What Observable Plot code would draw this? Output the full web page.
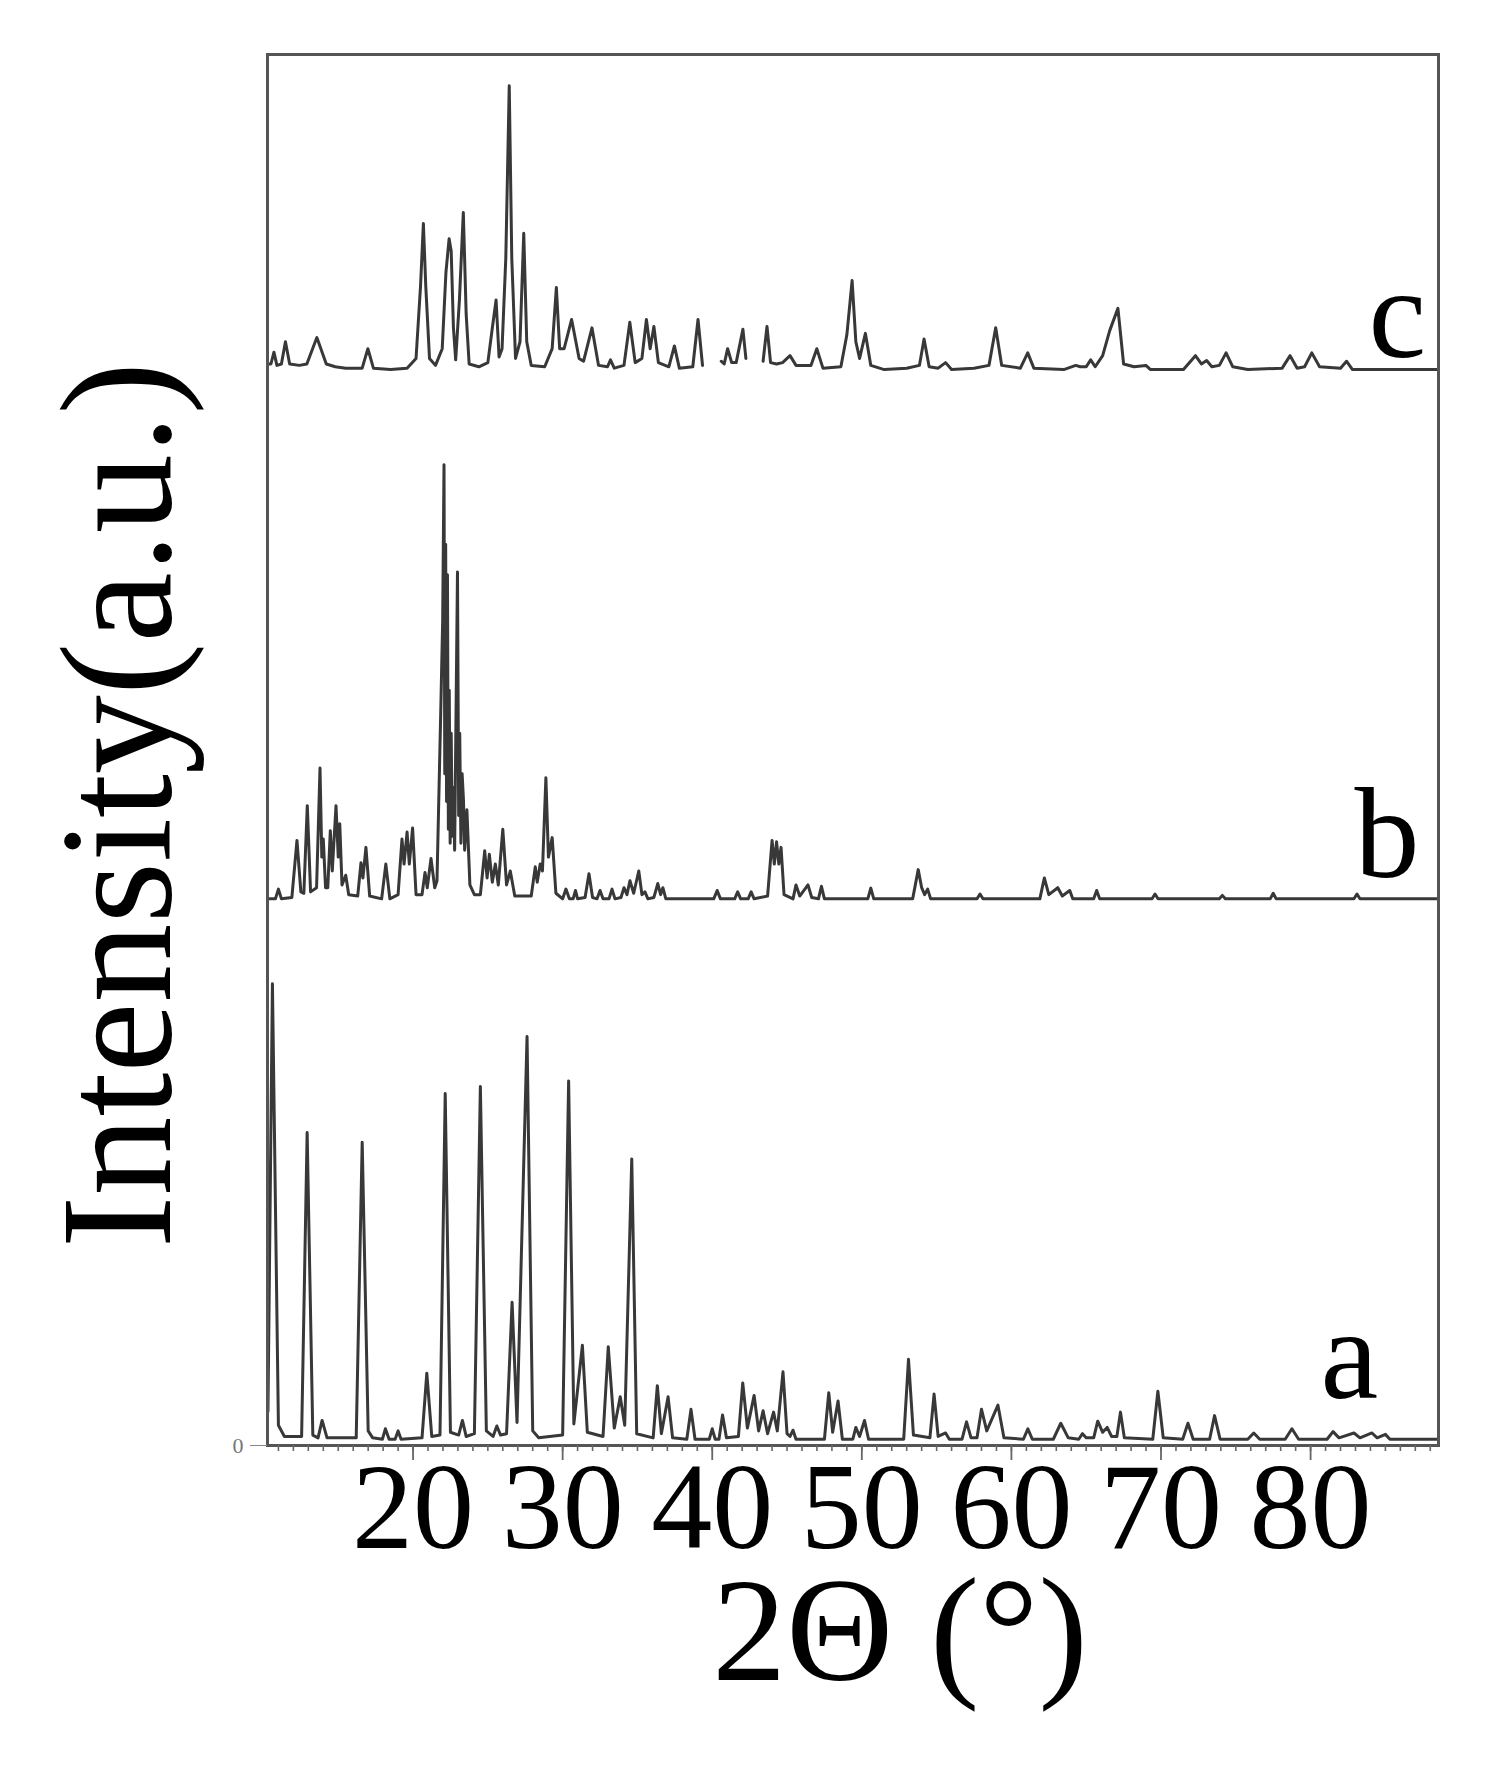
<!DOCTYPE html>
<html>
<head>
<meta charset="utf-8">
<script src="https://cdn.jsdelivr.net/npm/d3@7"></script>
<script src="https://cdn.jsdelivr.net/npm/@observablehq/plot@0.6"></script>
<style>
  body { margin: 0; background: #fff; }
  #chart svg { display: block; }
</style>
</head>
<body>
<div id="chart"></div>
<script>
// ---- data (2θ in degrees, intensity in a.u. above each pattern's own baseline) ----
const seriesNames = ["a", "b", "c"];
const baselineOffsets = [0.45, 39.3, 77.35];

const patternA = [
  [10.3,2.0],[10.6,32.75],[11.0,1.0],[11.4,0.2],
  [12.55,0.2],[12.92,22.05],[13.3,0.3],
  [13.65,0.1],[13.92,1.35],[14.25,0.1],
  [16.2,0.1],[16.6,21.35],[17.0,0.6],[17.3,0.1],
  [17.95,0],[18.15,0.75],[18.4,0],
  [18.8,0],[19.0,0.6],[19.2,0],
  [20.6,0.1],[20.92,4.75],[21.25,0.2],
  [21.8,0.3],[22.15,24.85],[22.5,0.5],
  [23.05,0.3],[23.3,1.35],[23.55,0.2],
  [24.1,0.4],[24.5,25.35],[24.9,0.6],
  [25.35,0.2],[25.6,0.95],[25.85,0.3],
  [26.25,0.4],[26.62,9.85],[26.95,1.2],
  [27.62,28.95],[28.0,0.6],[28.4,0.1],
  [30.0,0.3],[30.4,25.75],[30.75,1.1],
  [31.32,6.75],[31.65,0.5],
  [32.7,0.2],[33.05,6.65],[33.45,0.8],
  [33.85,3.05],[34.15,1.0],
  [34.62,20.15],[34.95,0.4],
  [36.05,0.1],[36.33,3.85],[36.6,0.4],
  [37.05,3.05],[37.35,0.1],
  [38.3,0],[38.58,2.15],[38.85,0],
  [39.8,0],[40.0,0.75],[40.2,0],
  [40.45,0],[40.69,1.75],[40.95,0.1],
  [41.75,0.2],[42.04,4.05],[42.35,0.8],
  [42.8,3.15],[43.1,0.6],
  [43.4,2.05],[43.7,0.4],
  [44.1,1.95],[44.35,0.6],
  [44.73,4.85],[45.0,0.4],
  [45.2,0.2],[45.4,0.65],[45.6,0],
  [47.5,0],[47.79,3.35],[48.05,0.5],
  [48.41,2.75],[48.7,0],
  [49.4,0],[49.6,0.85],[49.85,0.2],
  [50.18,1.35],[50.45,0],
  [52.8,0],[53.12,5.75],[53.45,0.3],
  [54.55,0.1],[54.83,3.25],[55.1,0.2],
  [55.6,0.45],[55.85,0],
  [56.7,0],[57.0,1.25],[57.3,0.1],
  [57.7,0.1],[58.0,2.15],[58.35,0.6],
  [59.1,2.45],[59.5,0.1],
  [60.8,0],[61.1,0.75],[61.4,0],
  [62.8,0],[63.3,1.15],[63.8,0.1],
  [64.5,0],[64.75,0.4],[65.0,0.1],
  [65.5,0.1],[65.77,1.3],[66.1,0.5],
  [66.4,0.85],[66.7,0.2],
  [67.05,0.2],[67.29,1.95],[67.55,0.1],
  [69.45,0],[69.79,3.45],[70.15,0.1],
  [71.45,0],[71.8,1.15],[72.15,0],
  [73.25,0],[73.58,1.7],[73.95,0],
  [75.8,0],[76.2,0.45],[76.6,0],
  [78.3,0],[78.75,0.75],[79.2,0],
  [81.1,0],[81.5,0.55],[81.9,0.1],
  [82.9,0.45],[83.3,0.1],
  [84.1,0.45],[84.45,0.1],
  [85.0,0.35],[85.3,0],
  [88.5,0]
];

const patternB = [
  [10.3,0],[10.8,0],[11.0,0.7],[11.2,0],
  [11.9,0.1],[12.24,4.2],[12.5,0.5],
  [12.7,0.4],[12.93,6.7],[13.15,0.5],
  [13.55,0.8],[13.78,9.4],[13.9,3.0],[14.0,4.3],[14.15,0.8],
  [14.3,0.8],[14.47,4.9],[14.6,2.0],[14.85,6.7],[15.0,3.0],[15.1,5.4],[15.25,1.0],[15.5,1.7],[15.7,0.3],
  [16.3,0.2],[16.52,2.6],[16.65,1.5],[16.85,3.7],[17.1,0.2],
  [17.9,0],[18.18,2.5],[18.45,0],
  [19.0,0.3],[19.26,4.3],[19.4,2.5],[19.6,4.8],[19.75,2.5],[19.97,5.1],[20.2,0.3],
  [20.6,0.3],[20.8,1.9],[20.95,0.8],[21.2,2.9],[21.45,0.8],[21.6,1.3],
  [21.84,12.9],[21.98,20.0],[22.07,31.2],[22.12,9.0],[22.18,25.5],[22.24,7.0],[22.3,23.3],[22.36,5.0],
  [22.42,15.0],[22.48,4.0],[22.55,11.9],[22.62,4.5],[22.7,8.0],[22.78,3.5],[22.97,23.5],[23.05,6.0],
  [23.12,11.9],[23.2,4.0],[23.28,9.0],[23.37,7.1],[23.45,3.5],[23.6,6.4],[23.8,1.0],[24.1,0.3],
  [24.5,0.3],[24.79,3.45],[24.95,1.5],[25.1,3.2],[25.3,1.2],[25.5,2.5],[25.7,1.0],[26.0,5.0],[26.25,1.0],[26.5,2.0],[26.8,0.2],
  [27.9,0.2],[28.17,2.3],[28.3,1.2],[28.5,2.5],[28.65,2.0],[28.88,8.7],[29.05,3.0],[29.3,4.4],[29.55,0.4],
  [30.0,0],[30.22,0.7],[30.45,0],[30.7,0],[30.86,0.6],[31.0,0],[31.5,0.1],[31.76,1.8],[32.0,0.1],
  [32.3,0],[32.5,0.6],[32.7,0],[33.1,0],[33.3,0.7],[33.5,0],[33.9,0.1],[34.1,0.8],[34.3,0.3],
  [34.5,1.3],[34.75,0.4],[35.09,2.0],[35.3,0.3],[35.5,0.5],[35.7,0],[36.1,0.1],[36.36,1.1],
  [36.55,0.3],[36.7,0.8],[36.9,0],
  [40.1,0],[40.33,0.6],[40.55,0],
  [41.5,0],[41.7,0.5],[41.9,0],
  [42.4,0],[42.6,0.5],[42.8,0],
  [43.7,0.2],[44.0,4.2],[44.15,2.5],[44.3,4.1],[44.45,2.5],[44.6,3.7],[44.8,0.3],
  [45.4,0],[45.6,1.0],[45.85,0.2],[46.4,1.0],[46.65,0.1],[47.1,0],[47.3,0.9],[47.5,0],
  [50.4,0],[50.6,0.77],[50.8,0],
  [53.4,0],[53.77,2.1],[54.0,0.8],[54.2,0.3],[54.4,0.7],[54.6,0],
  [57.7,0],[57.9,0.35],[58.1,0],
  [61.9,0],[62.2,1.5],[62.5,0.3],[63.1,0.8],[63.4,0.2],[63.9,0.6],[64.1,0],
  [65.5,0],[65.7,0.6],[65.9,0],
  [69.4,0],[69.6,0.35],[69.8,0],
  [73.9,0],[74.1,0.25],[74.3,0],
  [77.3,0],[77.5,0.4],[77.7,0],
  [82.9,0],[83.1,0.35],[83.3,0],
  [88.5,0]
];

const patternC = [
  [10.3,0.4],[10.5,0.4],[10.7,1.25],[10.9,0.3],[11.2,0.4],[11.47,2.0],[11.75,0.4],
  [12.4,0.3],[12.9,0.4],[13.57,2.3],[14.2,0.4],[14.8,0.2],[15.5,0.1],
  [16.6,0.1],[16.98,1.5],[17.35,0.1],[18.5,0],[19.6,0.1],
  [20.2,0.8],[20.5,6.0],[20.69,10.5],[20.85,6.0],[21.1,0.8],[21.5,0.3],
  [21.95,1.5],[22.2,7.0],[22.41,9.4],[22.55,8.5],[22.7,3.0],[22.85,0.7],
  [23.1,5.0],[23.36,11.3],[23.55,4.0],[23.75,0.4],[24.4,0.2],
  [25.0,0.5],[25.3,3.0],[25.55,5.0],[25.75,0.9],[25.95,1.5],
  [26.2,8.0],[26.43,20.4],[26.6,8.0],[26.85,0.8],
  [27.15,2.0],[27.4,9.8],[27.6,2.0],[27.9,0.3],
  [28.8,0.2],[29.3,1.5],[29.58,5.9],[29.8,1.5],[30.1,1.5],[30.6,3.6],[31.1,0.8],
  [31.4,0.6],[31.96,3.0],[32.4,0.3],[33.0,0.2],[33.2,0.7],[33.45,0.1],
  [34.1,0.3],[34.49,3.4],[34.85,0.5],[35.3,0.8],[35.6,3.6],[35.85,1.5],[36.1,3.1],[36.4,0.5],
  [37.1,0.2],[37.47,1.7],[37.8,0.1],[38.7,0.2],[39.05,3.6],[39.35,0.3],
  [39.5,null],
  [40.6,0.6],[40.8,0.4],[41.03,1.5],[41.3,0.5],[41.6,0.5],[42.05,2.9],[42.25,0.8],
  [42.8,null],
  [43.4,0.6],[43.66,3.1],[43.9,0.5],[44.3,0.4],[44.7,0.5],[45.2,1.0],[45.6,0.3],
  [46.6,0.3],[46.99,1.5],[47.4,0.1],[48.6,0.2],
  [49.0,2.5],[49.35,6.4],[49.6,2.0],[49.85,0.8],[50.24,2.6],[50.6,0.3],[51.5,0],
  [53.0,0.1],[53.85,0.3],[54.16,2.2],[54.5,0.2],[55.1,0.1],[55.6,0.5],[56.0,0],
  [57.5,0.1],[58.5,0.3],[58.95,3.0],[59.35,0.3],[60.6,0.1],[61.09,1.2],[61.5,0.1],
  [63.5,0],[64.3,0.3],[64.6,0.2],[65.0,0.2],[65.3,0.7],[65.6,0.2],
  [66.1,1.0],[66.57,2.8],[67.12,4.4],[67.5,0.4],[68.2,0.2],[68.99,0.3],[69.3,0],
  [71.5,0],[72.3,1.0],[72.7,0.4],[73.05,0.65],[73.4,0.2],[73.9,0.3],[74.35,1.2],[74.8,0.2],
  [75.8,0],[78.1,0.1],[78.63,1.0],[79.1,0.1],[79.6,0.2],[80.08,1.2],[80.6,0.2],
  [82.0,0.1],[82.4,0.6],[82.8,0],[88.5,0]
];

const xTickLabels = [20, 30, 40, 50, 60, 70, 80];
const yTickLabels = [0];
const xTitle = "2\u0398 (\u00B0)";
const yTitle = "Intensity(a.u.)";

// ---- build the table for Plot ----
const rows = [];
[patternA, patternB, patternC].forEach((pts, i) => {
  pts.forEach(([t, v]) => rows.push({
    series: seriesNames[i],
    theta: t,
    intensity: v == null ? null : baselineOffsets[i] + v
  }));
});
const minorTicks = d3.range(11, 89);

const serif = "'Liberation Serif', 'Times New Roman', Times, serif";

const chart = Plot.plot({
  width: 1507,
  height: 1776,
  marginLeft: 267,
  marginRight: 69,
  marginTop: 54,
  marginBottom: 331,
  style: { fontFamily: serif, background: "#fff", color: "#000" },
  x: { domain: [10.27, 88.55], label: null },
  y: { domain: [0, 100], label: null },
  marks: [
    Plot.line(rows, {
      x: "theta", y: "intensity", z: "series",
      stroke: "#383838", strokeWidth: 3,
      strokeLinejoin: "round", strokeLinecap: "round"
    }),
    Plot.frame({ stroke: "#555", strokeWidth: 3 }),
    Plot.axisX(minorTicks, {
      tickSize: 6, tickFormat: () => "", stroke: "#666", strokeWidth: 1.6, label: null
    }),
    Plot.axisX(xTickLabels, {
      tickSize: 15, tickPadding: 1, fontSize: 122, stroke: "#666", strokeWidth: 1.8,
      fill: "#000", tickFormat: d => String(d), label: null
    }),
    Plot.axisY(yTickLabels, {
      tickSize: 17, tickPadding: 7, fontSize: 22, stroke: "#888", fill: "#777",
      tickFormat: d => String(d), label: null
    }),
    Plot.text([yTitle], {
      text: d => d, frameAnchor: "left", textAnchor: "middle", lineAnchor: "middle",
      rotate: -90, fontSize: 158, dx: -148, dy: 55, fill: "#000"
    }),
    Plot.text([xTitle], {
      text: d => d, frameAnchor: "bottom", textAnchor: "middle", lineAnchor: "middle",
      fontSize: 148, dx: 47, dy: 187, fill: "#000"
    }),
    Plot.text([seriesNames[2]], {
      text: d => d, frameAnchor: "top-right", textAnchor: "start", lineAnchor: "middle",
      fontSize: 130, dx: -70, dy: 261, fill: "#000"
    }),
    Plot.text([seriesNames[1]], {
      text: d => d, frameAnchor: "top-right", textAnchor: "start", lineAnchor: "middle",
      fontSize: 130, dx: -84, dy: 781, fill: "#000"
    }),
    Plot.text([seriesNames[0]], {
      text: d => d, frameAnchor: "top-right", textAnchor: "start", lineAnchor: "middle",
      fontSize: 130, dx: -118, dy: 1302, fill: "#000"
    })
  ]
});
document.getElementById("chart").appendChild(chart);
</script>
</body>
</html>
